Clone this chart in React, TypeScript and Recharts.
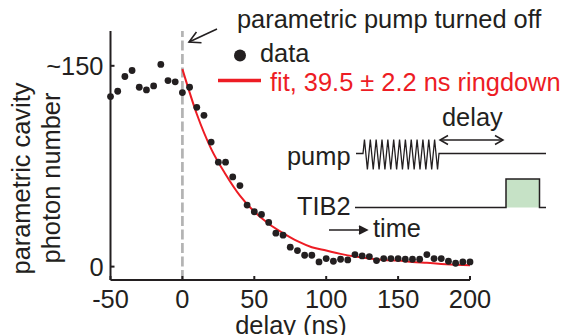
import React from 'react'
import { ComposedChart, Scatter, Line, XAxis, YAxis, ReferenceLine } from 'recharts'

// measured ringdown, one point every 5 ns
const delays = [
  -50, -45, -40, -35, -30, -25, -20, -15, -10, -5,
  0, 5, 10, 15, 20, 25, 30, 35, 40, 45,
  50, 55, 60, 65, 70, 75, 80, 85, 90, 95,
  100, 105, 110, 115, 120, 125, 130, 135, 140, 145,
  150, 155, 160, 165, 170, 175, 180, 185, 190, 195, 200,
]
const photons = [
  127, 131, 142, 146.5, 134, 132, 135, 151, 139, 138,
  130, 134, 119, 113, 93, 78, 78, 67, 60.5, 46,
  41, 39, 33, 25, 23.5, 14.5, 12, 8.5, 8.5, 3.5,
  6, 4, 5.5, 5, 9, 8, 7.5, 4.5, 6, 6,
  6, 5.5, 5.5, 5.5, 9, 6, 6, 4, 2.5, 3.5, 3.5,
]

// fit curve
const fitDelays = [0, 10, 20, 30, 40, 50, 60, 70, 80, 90, 100, 110, 120, 130, 140, 150, 160, 170, 180, 190, 200]
const fitPhotons = [147.5, 114, 88, 69, 53, 41, 32, 25, 19, 14.5, 12, 9.5, 7.5, 6, 5, 4.5, 3.5, 2.8, 2, 1.4, 1]

const xTicks = [-50, 0, 50, 100, 150, 200]
const yTicks = [0, 150]

const C = {
  ink: '#231f20',
  red: '#ed1c24',
  dash: '#b3b3b3',
  green: '#c6e2c6',
} as const

const FONT = '"Liberation Sans", Arial, Helvetica, sans-serif'
const FS = 25.4

const points = delays.map((t, i) => ({ t, n: photons[i] }))
const fit = fitDelays.map((t, i) => ({ t, n: fitPhotons[i] }))

function Dot(props: any) {
  const { cx, cy } = props
  if (cx == null || cy == null) return null
  return <circle cx={cx} cy={cy} r={3.4} fill={C.ink} />
}

// open chevron arrowhead at (tx,ty), pointing away from (fx,fy)
function chevron(tx: number, ty: number, fx: number, fy: number, len: number, half: number) {
  const dx = tx - fx
  const dy = ty - fy
  const d = Math.hypot(dx, dy)
  const ux = dx / d
  const uy = dy / d
  const bx = tx - ux * len
  const by = ty - uy * len
  return `M${bx - uy * half},${by + ux * half} L${tx},${ty} L${bx + uy * half},${by - ux * half}`
}

function pumpPath() {
  const x0 = 363
  const x1 = 439
  const yc = 154.5
  const amp = 15
  const halves = 26
  const step = (x1 - x0) / halves
  let p = `M356,153.5 L${x0},153.5`
  for (let k = 0; k < halves; k++) {
    p += ` L${x0 + (k + 0.5) * step},${k % 2 === 0 ? yc - amp : yc + amp}`
  }
  p += ` L${x1},153.5 L546,153.5`
  return p
}

function Annotations() {
  const txt = { fontFamily: FONT, fontSize: FS, fill: C.ink }
  return (
    <svg
      width={567}
      height={335}
      style={{ position: 'absolute', left: 0, top: 0, pointerEvents: 'none' }}
    >
      {/* axis titles */}
      <text {...txt} transform="translate(30,178.5) rotate(-90)" textAnchor="middle">
        parametric cavity
      </text>
      <text {...txt} transform="translate(60,178) rotate(-90)" textAnchor="middle">
        photon number
      </text>
      <text {...txt} x={291} y={334} textAnchor="middle">delay (ns)</text>

      {/* pump-off callout */}
      <text {...txt} x={237} y={28}>parametric pump turned off</text>
      <g stroke={C.ink} strokeWidth={1.6} fill="none">
        <line x1={217} y1={29} x2={189} y2={42} />
        <path d={chevron(189, 42, 217, 29, 11, 6)} />
      </g>

      {/* legend */}
      <circle cx={240} cy={55.5} r={6} fill={C.ink} />
      <text {...txt} x={260} y={62}>data</text>
      <line x1={218} y1={80.5} x2={261} y2={80.5} stroke={C.red} strokeWidth={3.5} />
      <text {...txt} x={270} y={91} fill={C.red}>fit, 39.5 ± 2.2 ns ringdown</text>

      {/* pulse schematic */}
      <text {...txt} x={442} y={126}>delay</text>
      <g stroke={C.ink} strokeWidth={1.5} fill="none">
        <line x1={441} y1={140} x2={502} y2={140} />
        <path d={chevron(440, 140, 502, 140, 8, 4.5)} />
        <path d={chevron(503, 140, 441, 140, 8, 4.5)} />
      </g>
      <text {...txt} x={287} y={165}>pump</text>
      <path d={pumpPath()} stroke={C.ink} strokeWidth={1.3} fill="none" strokeLinejoin="miter" />

      <text {...txt} x={297} y={214.5}>TIB2</text>
      <rect x={506} y={179} width={33.5} height={28.5} fill={C.green} />
      <path
        d="M355,207.5 L506,207.5 L506,179 L539.5,179 L539.5,207.5 L546,207.5"
        stroke={C.ink}
        strokeWidth={1.5}
        fill="none"
      />

      <g stroke={C.ink} strokeWidth={1.5} fill="none">
        <line x1={329} y1={230} x2={366} y2={230} />
        <path d={chevron(367, 230, 329, 230, 8, 4)} fill={C.ink} />
      </g>
      <text {...txt} x={373} y={237}>time</text>
    </svg>
  )
}

export default function App() {
  return (
    <div style={{ position: 'absolute', left: 0, top: 0, width: 567, height: 335, background: '#fff' }}>
      <ComposedChart width={567} height={335} margin={{ top: 31, right: 97, bottom: 25, left: 10 }}>
        <XAxis
          type="number"
          dataKey="t"
          domain={[-50, 200]}
          ticks={xTicks}
          interval={0}
          height={30}
          axisLine={{ stroke: C.ink, strokeWidth: 2 }}
          tickLine={{ stroke: C.ink, strokeWidth: 2 }}
          tickSize={-4}
          tickMargin={14}
          tick={{ fontSize: FS, fill: C.ink, fontFamily: FONT }}
        />
        <YAxis
          type="number"
          dataKey="n"
          domain={[-10, 176]}
          ticks={yTicks}
          interval={0}
          width={100.5}
          axisLine={{ stroke: C.ink, strokeWidth: 2 }}
          tickLine={{ stroke: C.ink, strokeWidth: 2 }}
          tickSize={-4}
          tickMargin={11}
          tick={{ fontSize: FS, fill: C.ink, fontFamily: FONT }}
          tickFormatter={(v: number) => (v === 150 ? '~150' : String(v))}
        />
        <ReferenceLine x={0} stroke={C.dash} strokeWidth={2.7} strokeDasharray="10 3.5" />
        <Line
          data={fit}
          dataKey="n"
          type="monotone"
          stroke={C.red}
          strokeWidth={2}
          dot={false}
          activeDot={false}
          isAnimationActive={false}
        />
        <Scatter data={points} shape={<Dot />} isAnimationActive={false} />
      </ComposedChart>
      <Annotations />
    </div>
  )
}
